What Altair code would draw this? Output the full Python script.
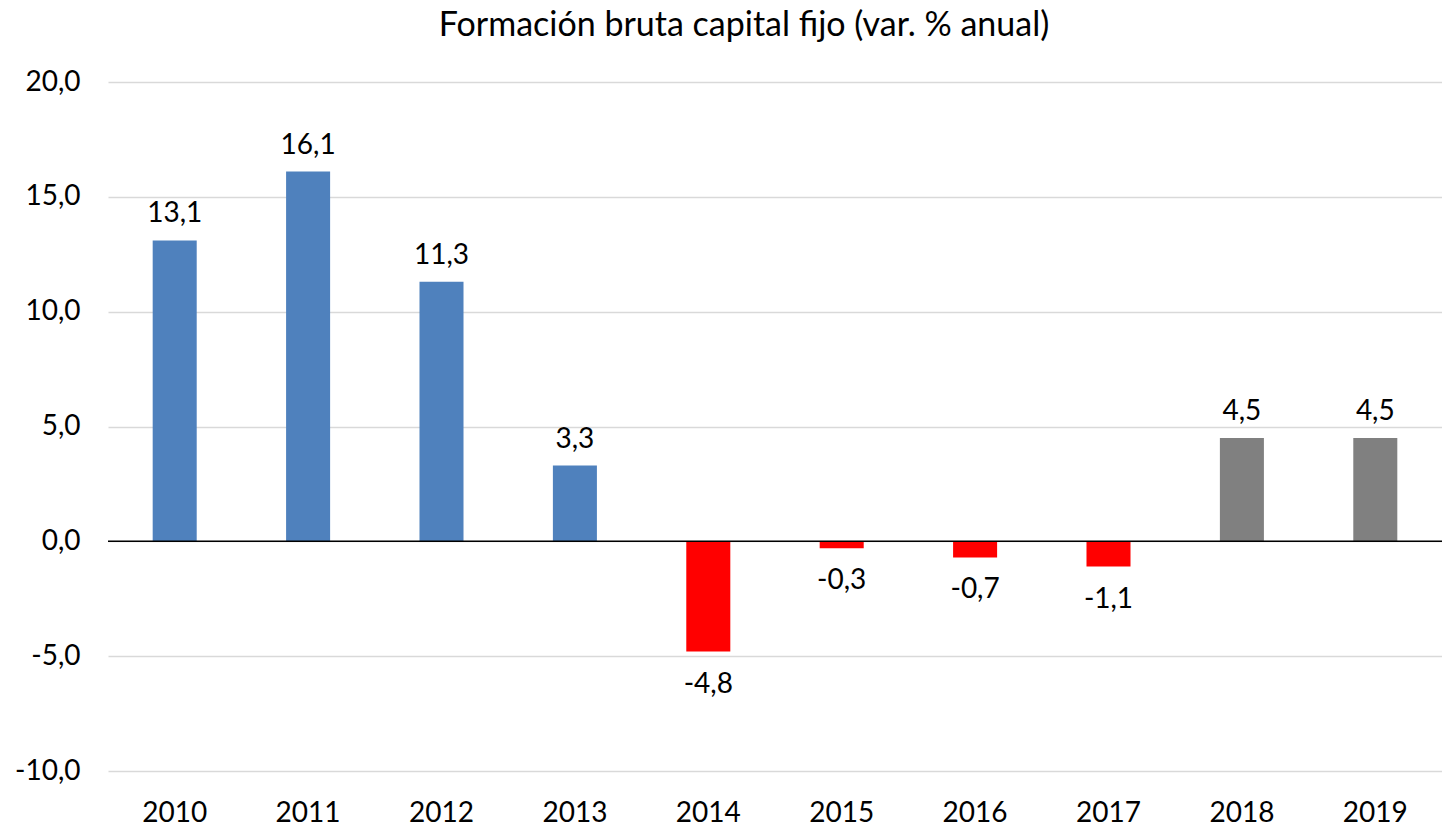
import altair as alt
import pandas as pd

years = ["2010", "2011", "2012", "2013", "2014", "2015", "2016", "2017", "2018", "2019"]
values = [13.1, 16.1, 11.3, 3.3, -4.8, -0.3, -0.7, -1.1, 4.5, 4.5]
groups = ["obs", "obs", "obs", "obs", "neg", "neg", "neg", "neg", "proy", "proy"]

df = pd.DataFrame({"year": years, "v": values, "g": groups})
df["label"] = [f"{x:.1f}".replace(".", ",") for x in values]

FONT = "Lato"

x = alt.X("year:N", sort=years, title=None,
          scale=alt.Scale(paddingInner=0.67, paddingOuter=0.335),
          axis=alt.Axis(labelAngle=0, ticks=False, domain=False, labelFontSize=28,
                        labelFont=FONT, labelColor="#000000", labelPadding=28, grid=False))
y = alt.Y("v:Q", title=None,
          scale=alt.Scale(domain=[-10, 20], nice=False, zero=False),
          axis=alt.Axis(values=[-10, -5, 0, 5, 10, 15, 20], ticks=False, domain=False,
                        labelFontSize=28, labelFont=FONT, labelColor="#000000", labelPadding=28,
                        gridColor="#d9d9d9", gridWidth=1.5,
                        labelExpr="replace(replace(format(datum.value, '.1f'), '.', ','), '\u2212', '-')"))

base = alt.Chart(df)

bars = base.mark_bar().encode(
    x=x, y=y, y2=alt.datum(0),
    color=alt.Color("g:N", scale=alt.Scale(domain=["obs", "neg", "proy"],
                                            range=["#4f81bd", "#ff0000", "#808080"]), legend=None),
)

zero = alt.Chart(pd.DataFrame({"z": [0]})).mark_rule(color="#000000", strokeWidth=1.5).encode(
    y=alt.Y("z:Q", scale=alt.Scale(domain=[-10, 20], nice=False, zero=False))
)

pos = base.transform_filter("datum.v >= 0").mark_text(
    baseline="bottom", dy=-12, fontSize=28, font=FONT, color="#000000"
).encode(x=alt.X("year:N", sort=years), y="v:Q", text="label:N")

neg = base.transform_filter("datum.v < 0").mark_text(
    baseline="top", dy=19, fontSize=28, font=FONT, color="#000000"
).encode(x=alt.X("year:N", sort=years), y="v:Q", text="label:N")

chart = alt.layer(bars, zero, pos, neg).properties(
    width=1334, height=689,
    title=alt.TitleParams("Formación bruta capital fijo (var. % anual)", fontSize=34,
                          font=FONT, fontWeight="normal", color="#000000", offset=25, dx=-31),
    autosize=alt.AutoSizeParams(type="none"),
    padding={"left": 100, "top": 74, "right": 0, "bottom": 56},
).configure_view(stroke=None)

chart.save("out.html", embed_options={"renderer": "svg", "actions": False})
